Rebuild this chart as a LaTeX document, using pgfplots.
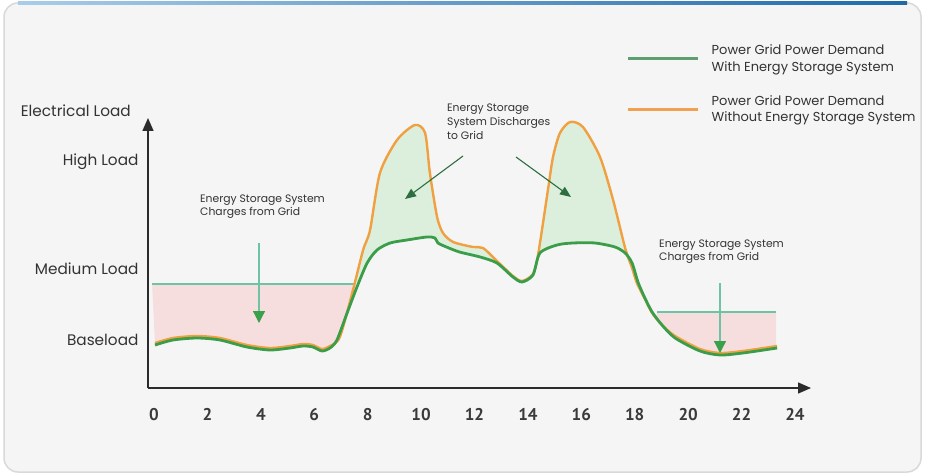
\documentclass[border=0pt]{standalone}
\usepackage{fontspec}
\setmainfont{Poppins}
\newfontfamily\tickfont{PT Sans}
\usepackage{pgfplots}
\usepackage{pgfplotstable}
\pgfplotsset{compat=1.18}
\usepgfplotslibrary{fillbetween}
\usetikzlibrary{arrows.meta}
\pgfdeclarelayer{bglayer}
\pgfdeclarelayer{axis background}
\pgfdeclarelayer{axis grid}
\pgfdeclarelayer{axis ticks}
\pgfdeclarelayer{axis lines}
\pgfdeclarelayer{axis tick labels}
\pgfdeclarelayer{pre main}
\pgfdeclarelayer{axis descriptions}
\pgfdeclarelayer{axis foreground}
\pgfplotsset{
 layers/mine/.define layer set={bglayer,axis background,axis grid,axis ticks,axis lines,axis tick labels,pre main,main,axis descriptions,axis foreground}{
   grid style={/pgfplots/on layer=axis grid},
   tick style={/pgfplots/on layer=axis ticks},
   axis line style={/pgfplots/on layer=axis lines},
   label style={/pgfplots/on layer=axis descriptions},
   legend style={/pgfplots/on layer=axis descriptions},
   title style={/pgfplots/on layer=axis descriptions},
   colorbar style={/pgfplots/on layer=axis descriptions},
   ticklabel style={/pgfplots/on layer=axis tick labels},
   axis background@ style={/pgfplots/on layer=axis background},
   3d box foreground style={/pgfplots/on layer=axis foreground},
 },
}
\definecolor{bgc}{HTML}{F5F5F5}
\definecolor{axisc}{HTML}{2B2B2B}
\definecolor{textc}{HTML}{333333}
\definecolor{tickc}{HTML}{3A3A3A}
\definecolor{greenc}{HTML}{3A9D4A}
\definecolor{orangec}{HTML}{F0A040}
\definecolor{pinkf}{HTML}{F6DEDE}
\definecolor{greenf}{HTML}{DCEFDD}
\definecolor{flatc}{HTML}{6CC4A4}
\definecolor{arrowg}{HTML}{3AA04A}
\definecolor{darkg}{HTML}{2E6E40}
\definecolor{leggreen}{HTML}{5D9F70}
\definecolor{legorange}{HTML}{F0A050}
\definecolor{blueA}{HTML}{A8CDE8}
\definecolor{blueB}{HTML}{1E6AA8}
% demand without storage
\pgfplotstableread{
h y
0.04 45
0.71 50
1.61 52
2.47 50
3.48 43
4.34 40
5.09 42
5.58 44
5.95 43
6.29 39
6.59 42
6.96 51
7.45 98
7.83 138
8.09 158
8.46 215
9.10 248
9.77 263
10.15 255
10.33 215
10.60 171
10.82 155
11.20 146
11.94 141
12.32 140
12.84 127
13.44 112
13.78 107
14.19 114
14.38 133
14.75 198
14.94 231
15.20 255
15.58 266
16.06 261
16.70 231
17.19 188
17.64 140
17.90 120
18.08 105
18.38 89
18.65 75
19.02 63
19.51 52
20.44 39
21.19 35
22.05 37
23.33 42
}\orangetab
% demand with storage
\pgfplotstableread{
h y
0.04 43
0.71 48
1.61 50
2.47 48
3.48 41
4.34 38
5.09 40
5.58 42
5.95 41
6.29 37
6.59 40
6.85 48
7.23 75
7.60 101
7.98 125
8.35 138
8.84 145
9.47 148
10.22 151
10.52 150
10.63 145
10.95 141
11.44 136
12.21 131
12.84 125
13.44 111
13.78 106
14.19 113
14.45 135
15.09 143
15.69 145
16.51 145
17.26 141
17.64 135
17.90 125
18.12 106
18.38 90
18.65 76
19.02 63
19.51 50
20.44 37
21.19 33
22.05 35
23.33 40
}\greentab
\begin{document}
\begin{tikzpicture}
\pgfsetlayers{bglayer,axis background,axis grid,axis ticks,axis lines,axis tick labels,pre main,main,axis descriptions,axis foreground}
\begin{pgfonlayer}{bglayer}
\fill[white] (0pt,0pt) rectangle (925pt,474pt);
\fill[bgc, rounded corners=14pt] (4pt,2pt) rectangle (921pt,471pt);
\draw[gray!30, line width=1.5pt, rounded corners=14pt] (4pt,2pt) rectangle (921pt,471pt);
\shade[left color=blueA, right color=blueB] (18pt,469.5pt) rectangle (907pt,472.5pt);
\end{pgfonlayer}
\begin{axis}[
  set layers=mine,
  at={(148pt,86pt)}, anchor=south west, scale only axis,
  width=663pt, height=270pt,
  xmin=-0.2246, xmax=24.6, ymin=0, ymax=270,
  axis x line=bottom, axis y line=left,
  axis line style={draw=axisc, line width=1.4pt, -{Triangle[length=13pt,width=11pt]}},
  major tick length=0pt,
  xtick={0,2,...,24},
  xticklabel style={font=\tickfont\bfseries\fontsize{17}{17}\selectfont, text=tickc, yshift=-17pt},
  ytick={48,119,226},
  yticklabels={Baseload,Medium Load,High Load},
  yticklabel style={font=\fontsize{15.3}{16}\selectfont, text=textc, xshift=-6pt},
  /pgf/number format/assume math mode=true,
  clip=false,
  legend style={at={(axis cs:17.71,345.5)}, anchor=north west, draw=none, fill=none,
    font=\fontsize{13}{16.5}\selectfont, text=textc, inner sep=0pt,
    cells={anchor=west, align=left}, row sep=19pt, column sep=10pt},
  legend image code/.code={\draw[#1] (0pt,0pt) -- (70pt,0pt);},
]
\addlegendimage{leggreen, line width=2.5pt}
\addlegendentry{Power Grid Power Demand\\With Energy Storage System}
\addlegendimage{legorange, line width=2.5pt}
\addlegendentry{Power Grid Power Demand\\Without Energy Storage System}

% invisible named paths for the fills
\addplot[draw=none, name path=flatL, forget plot] coordinates {(-0.07,104) (7.53,104)};
\addplot[draw=none, name path=flatR, forget plot] coordinates {(18.83,76) (23.29,76)};
\addplot[draw=none, smooth, tension=0.45, name path=orangep, forget plot] table[x=h,y=y] {\orangetab};
\addplot[draw=none, smooth, tension=0.45, name path=greenp, forget plot] table[x=h,y=y] {\greentab};

\addplot[pinkf, forget plot] fill between[of=flatL and greenp, soft clip={domain=-0.07:7.53}];
\addplot[pinkf, forget plot] fill between[of=flatR and greenp, soft clip={domain=18.83:23.29}];
\addplot[greenf, forget plot] fill between[of=orangep and greenp, soft clip={domain=7.6:17.75}];

% visible lines
\addplot[flatc, line width=1.3pt, forget plot] coordinates {(-0.07,104) (7.53,104)};
\addplot[flatc, line width=1.3pt, forget plot] coordinates {(18.83,76) (23.29,76)};
\addplot[orangec, line width=2.4pt, smooth, tension=0.45, forget plot] table[x=h,y=y] {\orangetab};
\addplot[greenc, line width=2.8pt, smooth, tension=0.45, forget plot] table[x=h,y=y] {\greentab};
\end{axis}

\node[anchor=east, inner sep=0pt, text=textc, font=\fontsize{15.3}{16}\selectfont] at (131pt,363pt) {Electrical Load};

\node[anchor=west, inner sep=0pt, align=left, text=textc, font=\fontsize{10.8}{13}\selectfont] at (200pt,267pt) {Energy Storage System\\Charges from Grid};
\node[anchor=west, inner sep=0pt, align=left, text=textc, font=\fontsize{10.8}{14}\selectfont] at (447pt,352pt) {Energy Storage\\System Discharges\\to Grid};
\node[anchor=west, inner sep=0pt, align=left, text=textc, font=\fontsize{10.8}{13}\selectfont] at (659pt,222.5pt) {Energy Storage System\\Charges from Grid};

\draw[flatc, line width=1.3pt, -{Triangle[length=12pt,width=12pt,color=arrowg]}] (259pt,231pt) -- (259pt,151pt);
\draw[flatc, line width=1.3pt, -{Triangle[length=12pt,width=12pt,color=arrowg]}] (720pt,191pt) -- (720pt,121pt);
\draw[darkg, line width=1.1pt, -{Triangle[length=11pt,width=9pt]}] (463pt,318pt) -- (405pt,275pt);
\draw[darkg, line width=1.1pt, -{Triangle[length=11pt,width=9pt]}] (516pt,317pt) -- (571pt,277pt);
\end{tikzpicture}
\end{document}
